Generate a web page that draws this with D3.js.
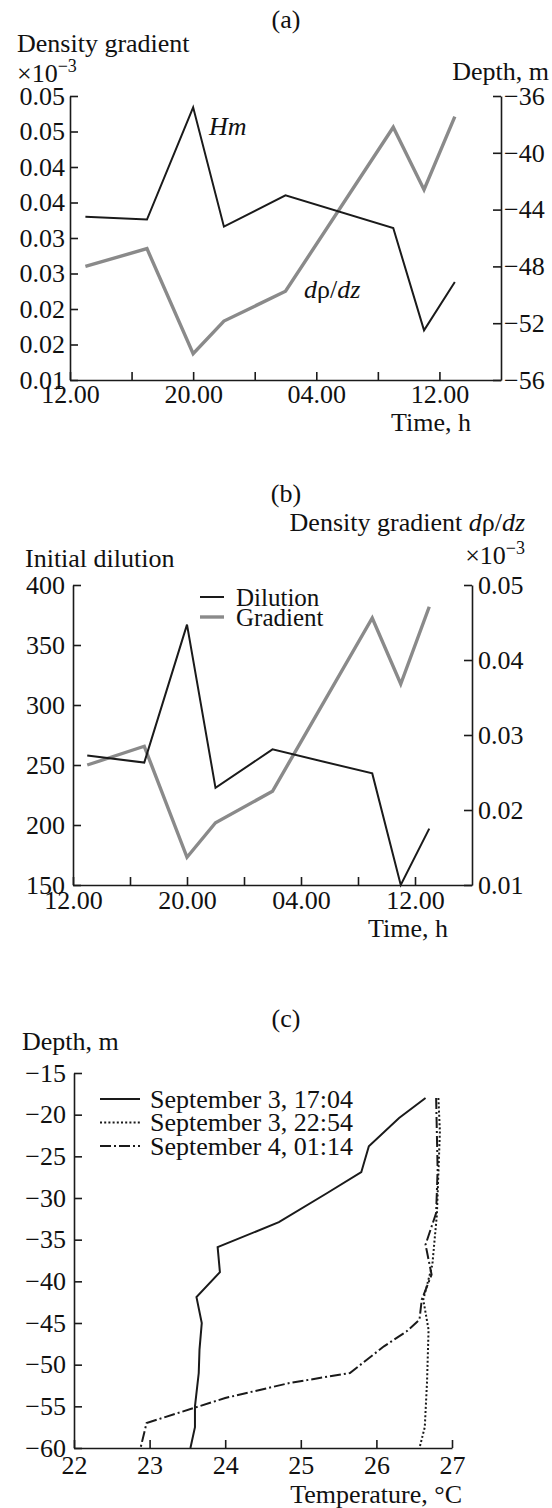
<!DOCTYPE html>
<meta charset="UTF-8">
<style>
  body { margin: 0; background: #fff; }
  svg { display: block; }
  text { font-family: "Liberation Serif", "Times New Roman", serif; fill: #111; }
</style>
<svg width="552" height="1508"></svg>
<script src="https://d3js.org/d3.v7.min.js"></script>
<script>
  // time of each observation, hours from 00:00 of day 1
  const hours = [13, 17, 20, 22, 26, 33, 35, 37];
  const mixedDepth = [-44.5, -44.7, -36.8, -45.2, -43.0, -45.3, -52.5, -49.1];
  const densityGradient = [0.0260, 0.0285, 0.0137, 0.0183, 0.0225, 0.0456, 0.0368, 0.0471];
  const dilution = [258, 252, 367, 231, 263, 243, 150, 197];

  const timeTicks = [12, 16, 20, 24, 28, 32, 36];
  const timeLabels = ['12.00', '', '20.00', '', '04.00', '', '12.00'];
  const gradTicksA = [0.010, 0.015, 0.020, 0.025, 0.030, 0.035, 0.040, 0.045, 0.050];
  const gradLabelsA = ['0.01', '0.02', '0.02', '0.03', '0.03', '0.04', '0.04', '0.05', '0.05'];
  const depthTicksA = [-56, -52, -48, -44, -40, -36];
  const dilutionTicks = [150, 200, 250, 300, 350, 400];
  const gradTicksB = [0.01, 0.02, 0.03, 0.04, 0.05];

  // temperature profiles (c)
  const depth1704 = [-18, -20.4, -23.8, -26.9, -29.4, -32.9, -35.9, -38.9, -41.9, -45, -48.2, -51, -55, -57.5, -60];
  const temp1704 = [26.65, 26.30, 25.90, 25.80, 25.35, 24.71, 23.90, 23.93, 23.62, 23.69, 23.66, 23.65, 23.60, 23.60, 23.54];
  const depth2254 = [-18, -22, -27, -32, -38, -42.2, -45.8, -52, -57.5, -60];
  const temp2254 = [26.82, 26.84, 26.82, 26.80, 26.74, 26.62, 26.69, 26.67, 26.64, 26.57];
  const depth0114 = [-18, -26.6, -31.8, -35.6, -39.2, -42.2, -44.6, -46, -47.8, -51, -52.2, -54, -57, -60];
  const temp0114 = [26.79, 26.81, 26.79, 26.65, 26.73, 26.60, 26.57, 26.40, 26.10, 25.65, 24.85, 24.00, 22.96, 22.88];
  const profileNames = ['September 3, 17:04', 'September 3, 22:54', 'September 4, 01:14'];
  const tempTicks = [22, 23, 24, 25, 26, 27];
  const depthTicksC = [-60, -55, -50, -45, -40, -35, -30, -25, -20, -15];

  const FS = 26,
        INK = '#1a1a1a',
        GREY = '#8a8a8a';

  const svg = d3.select('svg');

  const styleAxis = (g) => {
    g.attr('font-size', FS).attr('font-family', null).attr('color', INK);
    g.selectAll('path, line').attr('stroke-width', 1.6);
    return g;
  };

  const text = (x, y, str, anchor) => svg.append('text')
    .attr('x', x).attr('y', y)
    .attr('font-size', FS)
    .attr('text-anchor', anchor || 'start')
    .text(str);

  const times10 = (x, y, anchor) => {
    const t = svg.append('text').attr('x', x).attr('y', y)
      .attr('font-size', FS).attr('text-anchor', anchor || 'start');
    t.append('tspan').text('×10');
    t.append('tspan').attr('dy', -10).attr('font-size', 18).text('−3');
    return t;
  };

  const drhoDz = (t) => {
    t.append('tspan').attr('font-style', 'italic').text('d');
    t.append('tspan').text('ρ/');
    t.append('tspan').attr('font-style', 'italic').text('dz');
    return t;
  };

  const timeAxis = (x, pad) => d3.axisBottom(x)
    .tickValues(timeTicks)
    .tickFormat((_, i) => timeLabels[i])
    .tickSizeInner(-8).tickSizeOuter(0).tickPadding(pad);

  const plotLine = (xs, ys, x, y, color, width, dash) => svg.append('path')
    .datum(xs.map((v, i) => [v, ys[i]]))
    .attr('fill', 'none')
    .attr('stroke', color)
    .attr('stroke-width', width)
    .attr('stroke-dasharray', dash || null)
    .attr('d', d3.line().x(d => x(d[0])).y(d => y(d[1])));

  // ---------- (a) ----------
  {
    const x = d3.scaleLinear().domain([12, 40]).range([70, 501]);
    const yL = d3.scaleLinear().domain([0.01, 0.05]).range([380, 96]);
    const yR = d3.scaleLinear().domain([-56, -36]).range([380, 96]);

    text(286, 28, '(a)', 'middle');
    text(17, 52, 'Density gradient');
    times10(17, 82);
    text(549, 80, 'Depth, m', 'end');

    svg.append('g').attr('transform', 'translate(0,380)')
      .call(timeAxis(x, 5)).call(styleAxis);
    svg.append('g').attr('transform', 'translate(70,0)')
      .call(d3.axisLeft(yL).tickValues(gradTicksA).tickFormat((_, i) => gradLabelsA[i])
        .tickSizeInner(-8).tickSizeOuter(0).tickPadding(5))
      .call(styleAxis);
    svg.append('g').attr('transform', 'translate(501,0)')
      .call(d3.axisRight(yR).tickValues(depthTicksA)
        .tickSizeInner(-8).tickSizeOuter(0).tickPadding(3))
      .call(styleAxis);
    text(471, 431, 'Time, h', 'end');

    plotLine(hours, densityGradient, x, yL, GREY, 3.4);
    plotLine(hours, mixedDepth, x, yR, INK, 2);

    text(209, 135, 'Hm').attr('font-style', 'italic');
    drhoDz(text(304, 298, ''));
  }

  // ---------- (b) ----------
  {
    const x = d3.scaleLinear().domain([12, 40]).range([73, 472]);
    const yL = d3.scaleLinear().domain([150, 400]).range([885, 585]);
    const yR = d3.scaleLinear().domain([0.01, 0.05]).range([885, 585]);

    text(286, 502, '(b)', 'middle');
    drhoDz(text(525, 531, 'Density gradient ', 'end'));
    times10(525, 564, 'end');
    text(25, 567, 'Initial dilution');

    svg.append('g').attr('transform', 'translate(0,885)')
      .call(timeAxis(x, 6)).call(styleAxis);
    svg.append('g').attr('transform', 'translate(73,0)')
      .call(d3.axisLeft(yL).tickValues(dilutionTicks)
        .tickSizeInner(-8).tickSizeOuter(0).tickPadding(8))
      .call(styleAxis);
    svg.append('g').attr('transform', 'translate(472,0)')
      .call(d3.axisRight(yR).tickValues(gradTicksB).tickFormat(d3.format('.2f'))
        .tickSizeInner(-8).tickSizeOuter(0).tickPadding(6))
      .call(styleAxis);
    text(448, 937, 'Time, h', 'end');

    plotLine(hours, densityGradient, x, yR, GREY, 3.4);
    plotLine(hours, dilution, x, yL, INK, 2);

    // legend
    const legend = [['Dilution', INK, 2], ['Gradient', GREY, 3.4]];
    legend.forEach(([name, color, w], i) => {
      const ly = 597 + i * 20;
      svg.append('line').attr('x1', 200).attr('x2', 224).attr('y1', ly).attr('y2', ly)
        .attr('stroke', color).attr('stroke-width', w);
      text(236, ly, name).attr('dominant-baseline', 'central').attr('font-size', 25);
    });
  }

  // ---------- (c) ----------
  {
    const x = d3.scaleLinear().domain([22, 27]).range([74, 452]);
    const y = d3.scaleLinear().domain([-60, -15]).range([1448, 1073]);

    text(286, 1027, '(c)', 'middle');
    text(22, 1050, 'Depth, m');

    svg.append('g').attr('transform', 'translate(0,1448)')
      .call(d3.axisBottom(x).tickValues(tempTicks).tickFormat(d3.format('d'))
        .tickSizeInner(-8).tickSizeOuter(0).tickPadding(8))
      .call(styleAxis);
    svg.append('g').attr('transform', 'translate(74,0)')
      .call(d3.axisLeft(y).tickValues(depthTicksC)
        .tickSizeInner(-8).tickSizeOuter(0).tickPadding(8))
      .call(styleAxis);
    text(462, 1503, 'Temperature, °C', 'end');

    const dashes = [null, '2,2.2', '11,3,2,3'];
    plotLine(temp2254, depth2254, x, y, INK, 2, dashes[1]);
    plotLine(temp0114, depth0114, x, y, INK, 2, dashes[2]);
    plotLine(temp1704, depth1704, x, y, INK, 2, dashes[0]);

    profileNames.forEach((name, i) => {
      const ly = 1099 + i * 23.5;
      svg.append('line').attr('x1', 100).attr('x2', 140).attr('y1', ly).attr('y2', ly)
        .attr('stroke', INK).attr('stroke-width', 2)
        .attr('stroke-dasharray', dashes[i]);
      text(150, ly, name).attr('dominant-baseline', 'central');
    });
  }
</script>
